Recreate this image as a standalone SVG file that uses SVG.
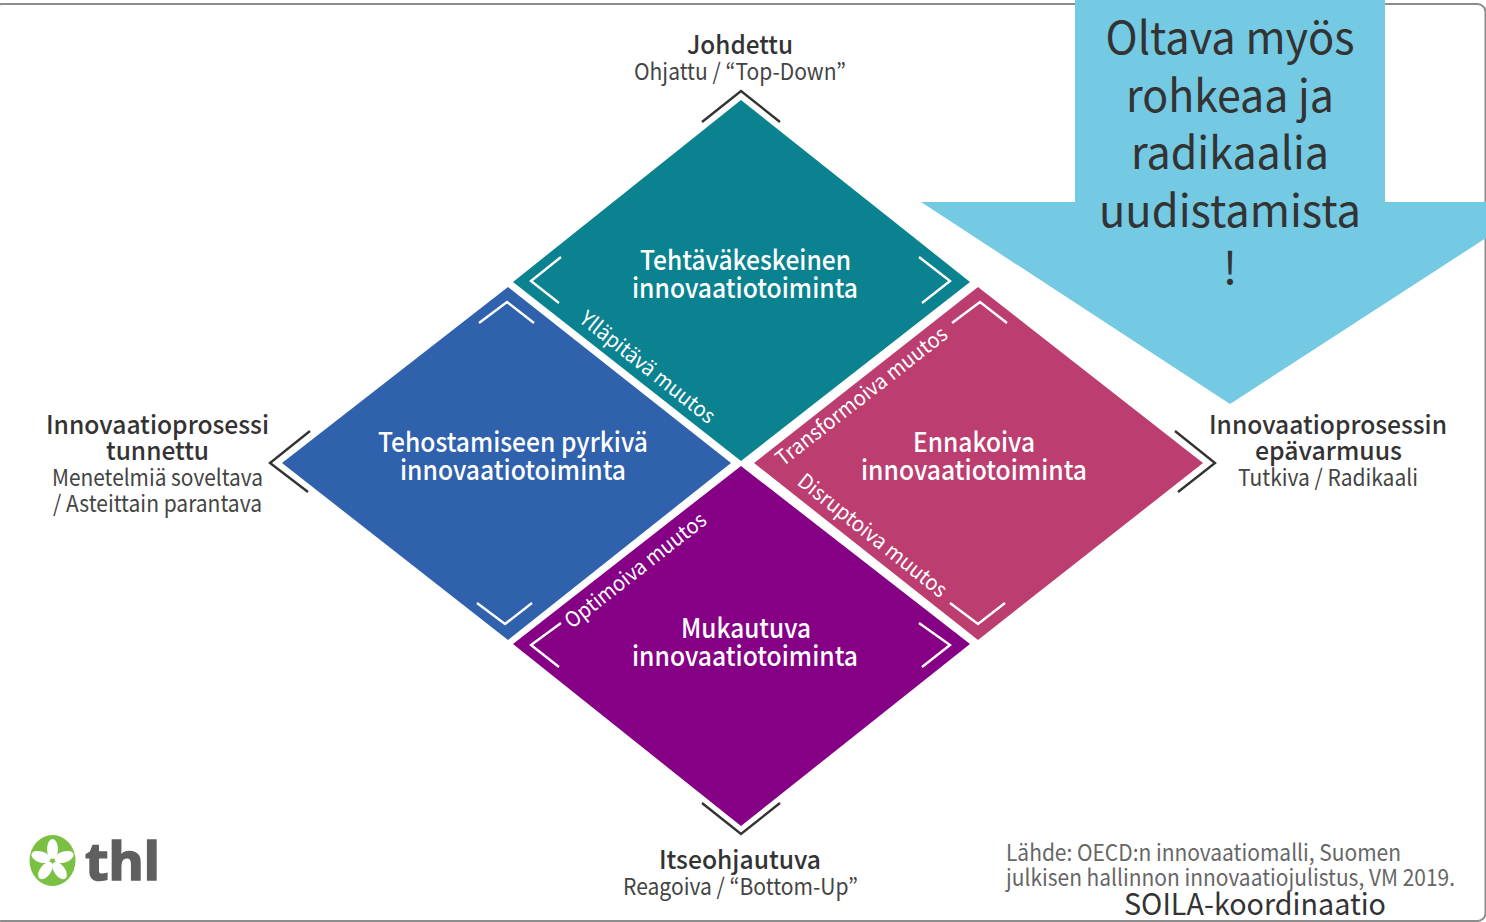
<svg xmlns="http://www.w3.org/2000/svg" width="1486" height="922" viewBox="0 0 1486 922">
<style>
text{font-family:"Noto Sans CJK JP","Noto Sans",sans-serif;text-anchor:middle}
.h{font-size:25.5px;font-weight:500;fill:#333}
.s{font-size:23px;font-weight:400;fill:#444}
.w{font-size:26.5px;font-weight:500;fill:#fff}
.r{font-size:21px;font-weight:400;fill:#fff}
.b{font-size:45px;font-weight:400;fill:#333}
.c{fill:none;stroke-width:2.4}
.cw{stroke:#fff}.cd{stroke:#333}
</style>
<rect width="1486" height="922" fill="#fff"/>
<rect x="-6" y="4" width="1491.500" height="917" rx="8" fill="#fff" stroke="#8c8c8c" stroke-width="2"/>
<g id="arrow">
<polygon points="1075,0 1385,0 1385,202 1486,202 1486,238 1230,404 921,202 1075,202" fill="#74c9e3"/>
<text class="b" x="1230" y="54" textLength="249" lengthAdjust="spacingAndGlyphs">Oltava myös</text>
<text class="b" x="1230" y="112" textLength="208" lengthAdjust="spacingAndGlyphs">rohkeaa ja</text>
<text class="b" x="1230" y="169" textLength="198" lengthAdjust="spacingAndGlyphs">radikaalia</text>
<text class="b" x="1230" y="227" textLength="262" lengthAdjust="spacingAndGlyphs">uudistamista</text>
<text class="b" x="1230" y="284">!</text>
</g>
<g id="node-top">
<polygon points="741,100 970,282 741,461 513,282" fill="#0a8290"/>
<text class="w" x="745.500" y="270" textLength="211" lengthAdjust="spacingAndGlyphs">Tehtäväkeskeinen</text>
<text class="w" x="745" y="298" textLength="226" lengthAdjust="spacingAndGlyphs">innovaatiotoiminta</text>
<text class="r" transform="translate(643,373) rotate(38.500)" textLength="166" lengthAdjust="spacingAndGlyphs">Ylläpitävä muutos</text>
<polyline class="c cw" points="561,257 531,281 559,303"/>
<polyline class="c cw" points="919,257 950,281 922,303"/>
</g>
<g id="node-left">
<polygon points="508,287 731,463 508,640 282,463" fill="#2f61ad"/>
<text class="w" x="513" y="452" textLength="270" lengthAdjust="spacingAndGlyphs">Tehostamiseen pyrkivä</text>
<text class="w" x="513" y="480" textLength="226" lengthAdjust="spacingAndGlyphs">innovaatiotoiminta</text>
<polyline class="c cw" points="479,323 507,302 534,323"/>
<polyline class="c cw" points="477,603 505,624 532,603"/>
</g>
<g id="node-right">
<polygon points="978,287 1203,463 978,640 754,463" fill="#bc3d70"/>
<text class="w" x="974" y="452" textLength="122" lengthAdjust="spacingAndGlyphs">Ennakoiva</text>
<text class="w" x="974" y="480" textLength="226" lengthAdjust="spacingAndGlyphs">innovaatiotoiminta</text>
<text class="r" transform="translate(866,402) rotate(-38)" textLength="211" lengthAdjust="spacingAndGlyphs">Transformoiva muutos</text>
<text class="r" transform="translate(868,541) rotate(38.500)" textLength="184" lengthAdjust="spacingAndGlyphs">Disruptoiva muutos</text>
<polyline class="c cw" points="952,323 980,302 1007,323"/>
<polyline class="c cw" points="950,603 978,624 1005,603"/>
</g>
<g id="node-bottom">
<polygon points="741,466 970,644 741,826 513,644" fill="#850085"/>
<text class="w" x="746" y="638" textLength="130" lengthAdjust="spacingAndGlyphs">Mukautuva</text>
<text class="w" x="745" y="666" textLength="226" lengthAdjust="spacingAndGlyphs">innovaatiotoiminta</text>
<text class="r" transform="translate(640,576) rotate(-38)" textLength="173" lengthAdjust="spacingAndGlyphs">Optimoiva muutos</text>
<polyline class="c cw" points="561,623 531,645 559,667"/>
<polyline class="c cw" points="919,623 950,645 922,667"/>
</g>
<g id="connectors">
<polyline class="c cd" points="702,122 741,91 780,122"/>
<polyline class="c cd" points="702,803 741,834 780,803"/>
<polyline class="c cd" points="310,431 270,463 308,492"/>
<polyline class="c cd" points="1175,431 1215,463 1178,492"/>
</g>
<g id="label-top">
<text class="h" x="740" y="54" textLength="106" lengthAdjust="spacingAndGlyphs">Johdettu</text>
<text class="s" x="740" y="80" textLength="212" lengthAdjust="spacingAndGlyphs">Ohjattu / “Top-Down”</text>
</g>
<g id="label-bottom">
<text class="h" x="740" y="869" textLength="162" lengthAdjust="spacingAndGlyphs">Itseohjautuva</text>
<text class="s" x="740.500" y="895" textLength="235" lengthAdjust="spacingAndGlyphs">Reagoiva / “Bottom-Up”</text>
</g>
<g id="label-left">
<text class="h" x="157.500" y="434" textLength="223" lengthAdjust="spacingAndGlyphs">Innovaatioprosessi</text>
<text class="h" x="157.500" y="460" textLength="103" lengthAdjust="spacingAndGlyphs">tunnettu</text>
<text class="s" x="157.500" y="486" textLength="211" lengthAdjust="spacingAndGlyphs">Menetelmiä soveltava</text>
<text class="s" x="157.500" y="512" textLength="209" lengthAdjust="spacingAndGlyphs">/ Asteittain parantava</text>
</g>
<g id="label-right">
<text class="h" x="1328" y="434" textLength="238" lengthAdjust="spacingAndGlyphs">Innovaatioprosessin</text>
<text class="h" x="1328.500" y="460" textLength="147" lengthAdjust="spacingAndGlyphs">epävarmuus</text>
<text class="s" x="1328" y="486" textLength="180" lengthAdjust="spacingAndGlyphs">Tutkiva / Radikaali</text>
</g>
<g id="logo">
<ellipse cx="52.500" cy="860.500" rx="23" ry="25.500" fill="#7ac143"/>
<g fill="#fff">
<ellipse cx="52.500" cy="849" rx="5.500" ry="10"/>
<ellipse cx="41" cy="857" rx="5.500" ry="10" transform="rotate(-72 41 857)"/>
<ellipse cx="64" cy="857" rx="5.500" ry="10" transform="rotate(72 64 857)"/>
<ellipse cx="45.500" cy="870.500" rx="5.500" ry="10" transform="rotate(36 45.500 870.500)"/>
<ellipse cx="59.500" cy="870.500" rx="5.500" ry="10" transform="rotate(-36 59.500 870.500)"/>
</g>
<text x="122.500" y="880" textLength="75" lengthAdjust="spacingAndGlyphs" style="font-family:'Noto Sans','Open Sans',sans-serif;font-size:52px;font-weight:700;fill:#5f5f5f;stroke:#5f5f5f;stroke-width:1.5">thl</text>
</g>
<g id="source">
<text x="1006" y="860.500" textLength="395" lengthAdjust="spacingAndGlyphs" style="text-anchor:start;font-size:23px;fill:#666">Lähde: OECD:n innovaatiomalli, Suomen</text>
<text x="1006" y="886" textLength="449" lengthAdjust="spacingAndGlyphs" style="text-anchor:start;font-size:23px;fill:#666">julkisen hallinnon innovaatiojulistus, VM 2019.</text>
<text x="1255" y="915" textLength="262" lengthAdjust="spacingAndGlyphs" style="font-size:30px;fill:#333">SOILA-koordinaatio</text>
</g>
</svg>
